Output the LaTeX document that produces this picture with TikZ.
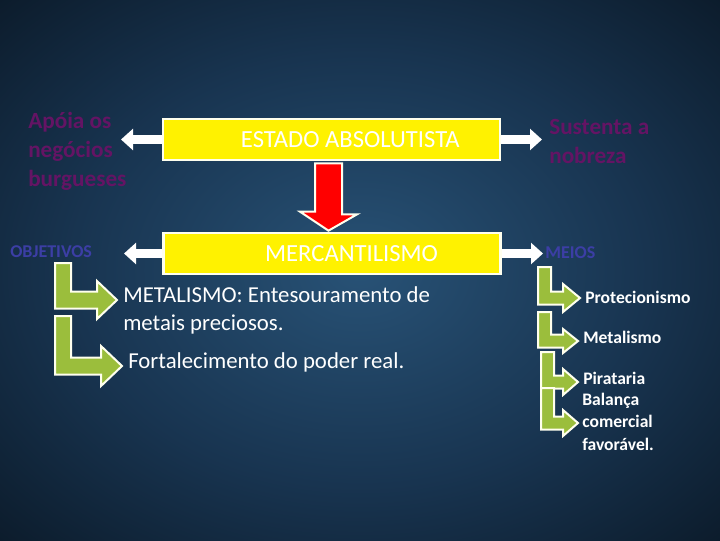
\documentclass[tikz,border=0pt]{standalone}
\usepackage{fontspec}
\setmainfont{Carlito}
\usetikzlibrary{arrows.meta,calc,positioning}

\definecolor{bgin}{RGB}{40,82,118}
\definecolor{bgmid}{RGB}{24,52,80}
\definecolor{bgdark}{RGB}{10,24,38}
\definecolor{bgout}{RGB}{5,12,20}
\definecolor{roxo}{RGB}{100,20,100}
\definecolor{azulrx}{RGB}{60,62,165}
\definecolor{verde}{RGB}{155,190,60}
\definecolor{borda}{RGB}{255,255,238}
\pgfdeclareradialshading{fundo}{\pgfpoint{0bp}{0bp}}{color(0bp)=(bgin); color(20bp)=(bgmid); color(38bp)=(bgdark); color(50bp)=(bgout)}

\begin{document}
\begin{tikzpicture}[x=0.025cm,y=-0.025cm,
    box/.style={draw=borda,line width=2.5*0.025cm,fill=yellow,minimum width=8.43cm,minimum height=1.03cm,inner sep=0pt},
    boxtxt/.style={text=white,font=\fontsize{17.5}{20}\selectfont,inner sep=0pt},
    whitearrow/.style={draw=white,line width=0.225cm,-{Triangle[length=0.3cm,width=0.52cm]}},
    redarrow/.style={draw=borda,line width=2*0.025cm,fill=red,line join=miter},
    greenarrow/.style={draw=borda,line width=2*0.025cm,fill=verde},
    roxotxt/.style={text=roxo,font=\bfseries\fontsize{16.5}{20.5}\selectfont,align=left,inner sep=0pt,anchor=base west},
    rotulo/.style={text=azulrx,font=\bfseries\fontsize{12.8}{14}\selectfont,inner sep=0pt,anchor=base west},
    item/.style={text=white,font=\fontsize{16.2}{19.8}\selectfont,align=left,inner sep=0pt,anchor=base west},
    itemp/.style={text=white,font=\bfseries\fontsize{12.5}{15.7}\selectfont,align=left,inner sep=0pt,anchor=base west}]

      % background
      \useasboundingbox (0,0) rectangle (720,540);
      \shade[shading=fundo] (0,0) rectangle (720,540);

      % the two yellow boxes
      \node[box] (estado) at (331.5,139.5) {};
      \node[boxtxt] (estadotxt) at ([xshift=0.47cm]estado.center) {ESTADO ABSOLUTISTA};
      \node[box] (merc) at (332,253.5) {};
      \node[boxtxt] (merctxt) at ([xshift=0.49cm]merc.center) {MERCANTILISMO};

      % side texts (base = last line)
      \node[roxotxt] (apoia) at (28,186) {Apóia os\\negócios\\burgueses};
      \node[roxotxt] (sustenta) at (549,163) {Sustenta a\\nobreza};
      \node[rotulo] (objetivos) at (10,257) {OBJETIVOS};
      \node[rotulo] (meios) at (545,258) {MEIOS};

      \coordinate (apoiatip) at (121,139.5);
      \coordinate (sustip) at (542,139.5);
      \coordinate (objtip) at (124,253.5);
      \coordinate (meiotip) at (543,253.5);

      \draw[whitearrow] (estado.west) -- (apoiatip);
      \draw[whitearrow] (estado.east) -- (sustip);
      \draw[whitearrow] (merc.west) -- (objtip);
      \draw[whitearrow] (merc.east) -- (meiotip);

      % red arrow
      \draw[redarrow] ($(estado.south)+(-16.5,2)$) -- ++(27,0) -- ++(0,51) -- ++(15,0)
          -- ($(merc.north)+(-3.5,-1)$) -- ++(-28.5,-19) -- ++(15,0) -- cycle;

      % objetivos
      \node[item] (metal) at (123,330) {METALISMO: Entesouramento de\\metais preciosos.};
      \node[item] (fort) at (128,368) {Fortalecimento do poder real.};

      % meios
      \node[itemp] (prot) at (585,303) {Protecionismo};
      \node[itemp] (metal2) at (583,343) {Metalismo};
      \node[itemp] (pirat) at (583,384) {Pirataria};
      \node[itemp] (balanca) at (582,450) {Balança\\comercial\\favorável.};

      % bent green arrows
      \foreach \ax/\bw/\ty/\cy/\sh/\hx/\hh/\tx in {55/16/263/300/17/97/38/117, 55/16/316/366/17/101/40/122,
          538/13/267/298/13/563/28/580, 538/13/312/341/13/563/24/578,
          541/13/352/382/13/563/26/578, 541/13/388/423/13/563/26/578} {
          \draw[greenarrow] (\ax,\ty) -- (\ax+\bw,\ty) -- (\ax+\bw,\cy-\sh/2) -- (\hx,\cy-\sh/2)
              -- (\hx,\cy-\hh/2) -- (\tx,\cy) -- (\hx,\cy+\hh/2) -- (\hx,\cy+\sh/2)
              -- (\ax,\cy+\sh/2) -- cycle;
      }
\end{tikzpicture}
\end{document}
